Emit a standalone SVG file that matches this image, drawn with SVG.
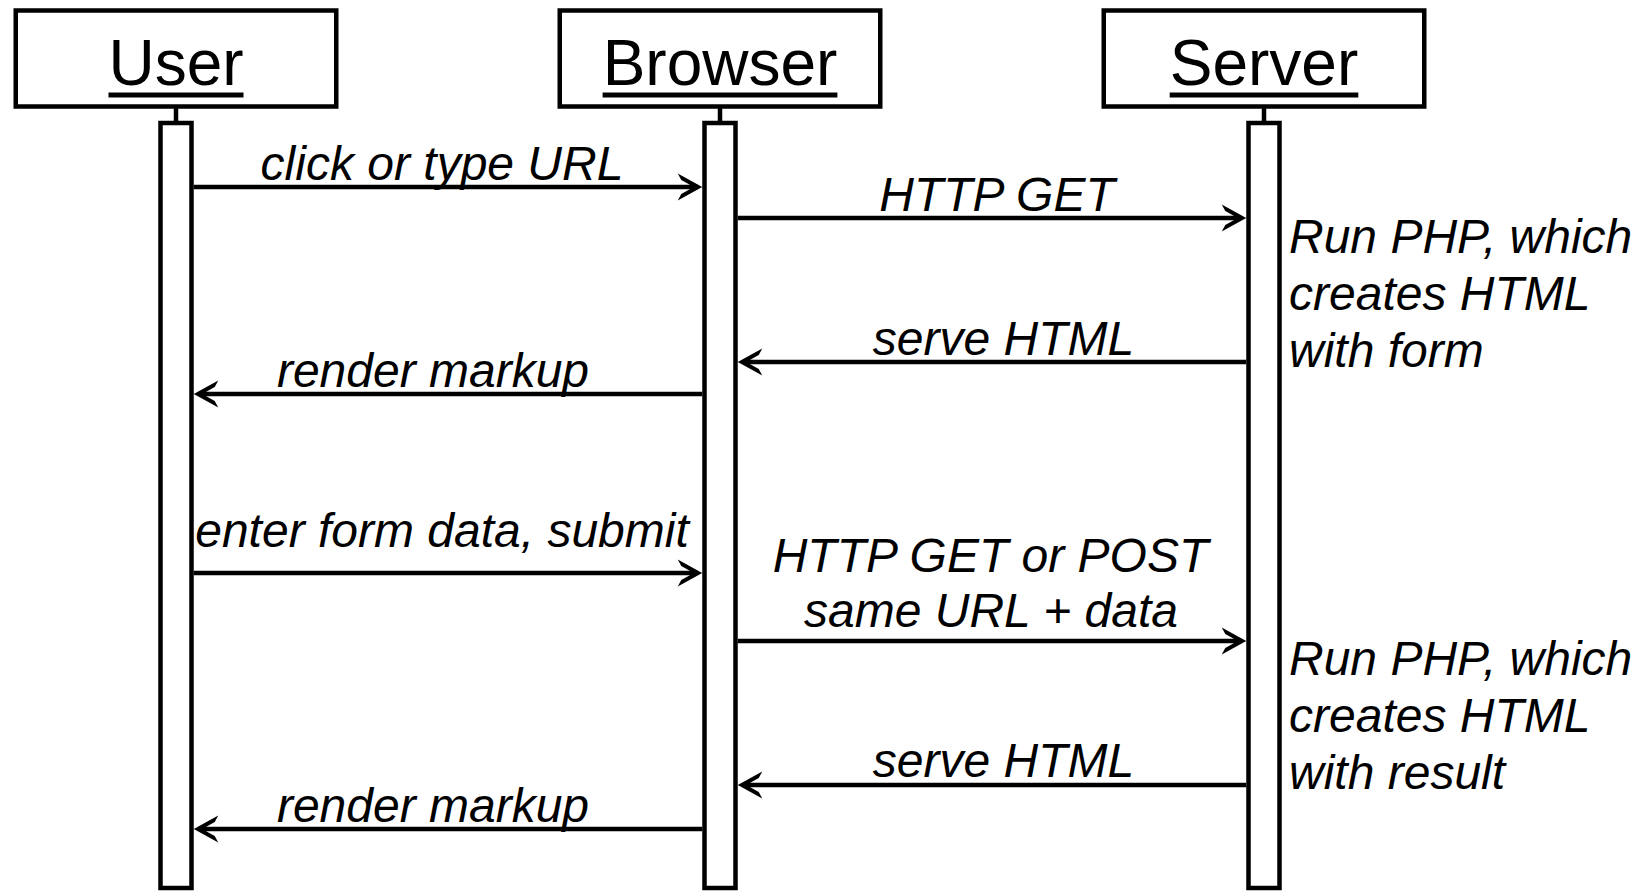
<svg xmlns="http://www.w3.org/2000/svg" width="1644" height="891" viewBox="0 0 1644 891">
  <style>
    .box { fill: #ffffff; stroke: #000000; stroke-width: 4.5; }
    .bar { fill: #ffffff; stroke: #000000; stroke-width: 4.5; }
    .stem { stroke: #000000; stroke-width: 4.5; }
    .ul { stroke: #000000; stroke-width: 5; }
    .title { font-family: "Liberation Sans", Arial, sans-serif; font-size: 64px; fill: #000000; text-anchor: middle; }
    .msg { font-family: "Liberation Sans", Arial, sans-serif; font-size: 48px; font-style: italic; fill: #000000; text-anchor: middle; }
    .note { font-family: "Liberation Sans", Arial, sans-serif; font-size: 48px; font-style: italic; fill: #000000; }
    .arrow { stroke: #000000; stroke-width: 4.5; fill: none; marker-end: url(#head); }
  </style>
  <defs>
    <marker id="head" markerUnits="userSpaceOnUse" viewBox="-26 -15 30 30" markerWidth="30" markerHeight="30" refX="-6" refY="0" orient="auto" overflow="visible">
      <path d="M0,0 L-24.5,-13.5 L-21,-6.9 L-12.5,-2.25 L-12.5,2.25 L-21,6.9 L-24.5,13.5 Z" fill="#000000"/>
    </marker>
  </defs>
  <rect x="0" y="0" width="1644" height="891" fill="#ffffff"/>

  <!-- lifeline: User -->
  <g id="user">
    <rect class="box" x="15.75" y="10.5" width="320.5" height="96"/>
    <text class="title" x="176" y="85">User</text>
    <line class="ul" x1="108.5" y1="95" x2="243.5" y2="95"/>
    <line class="stem" x1="176" y1="108" x2="176" y2="122"/>
    <rect class="bar" x="160.5" y="123" width="31" height="765"/>
  </g>

  <!-- lifeline: Browser -->
  <g id="browser">
    <rect class="box" x="559.75" y="10.5" width="320.5" height="96"/>
    <text class="title" x="720" y="85">Browser</text>
    <line class="ul" x1="602.6" y1="95" x2="837.4" y2="95"/>
    <line class="stem" x1="720" y1="108" x2="720" y2="122"/>
    <rect class="bar" x="704.5" y="123" width="31" height="765"/>
  </g>

  <!-- lifeline: Server -->
  <g id="server">
    <rect class="box" x="1103.75" y="10.5" width="320.5" height="96"/>
    <text class="title" x="1264" y="85">Server</text>
    <line class="ul" x1="1169.7" y1="95" x2="1358.3" y2="95"/>
    <line class="stem" x1="1264" y1="108" x2="1264" y2="122"/>
    <rect class="bar" x="1248.5" y="123" width="31" height="765"/>
  </g>

  <!-- server-side processing notes -->
  <g id="note-form">
    <text class="note" x="1289" y="253">Run PHP, which</text>
    <text class="note" x="1289" y="310">creates HTML</text>
    <text class="note" x="1289" y="367">with form</text>
  </g>
  <g id="note-result">
    <text class="note" x="1289" y="675">Run PHP, which</text>
    <text class="note" x="1289" y="732">creates HTML</text>
    <text class="note" x="1289" y="789">with result</text>
  </g>

  <!-- messages -->
  <g id="connectors">
    <line class="arrow" x1="193.75" y1="187" x2="696.25" y2="187"/>
    <line class="arrow" x1="737.75" y1="218" x2="1240.25" y2="218"/>
    <line class="arrow" x1="1246.25" y1="362" x2="743.75" y2="362"/>
    <line class="arrow" x1="702.25" y1="394" x2="199.75" y2="394"/>
    <line class="arrow" x1="193.75" y1="573" x2="696.25" y2="573"/>
    <line class="arrow" x1="737.75" y1="641" x2="1240.25" y2="641"/>
    <line class="arrow" x1="1246.25" y1="785" x2="743.75" y2="785"/>
    <line class="arrow" x1="702.25" y1="829" x2="199.75" y2="829"/>

    <text class="msg" x="442" y="180">click or type URL</text>
    <text class="msg" x="997" y="211">HTTP GET</text>
    <text class="msg" x="1003.5" y="355">serve HTML</text>
    <text class="msg" x="433" y="387">render markup</text>
    <text class="msg" x="442" y="547">enter form data, submit</text>
    <text class="msg" x="990.5" y="572">HTTP GET or POST</text>
    <text class="msg" x="991" y="627">same URL + data</text>
    <text class="msg" x="1003.5" y="777">serve HTML</text>
    <text class="msg" x="433" y="822">render markup</text>
  </g>
</svg>
